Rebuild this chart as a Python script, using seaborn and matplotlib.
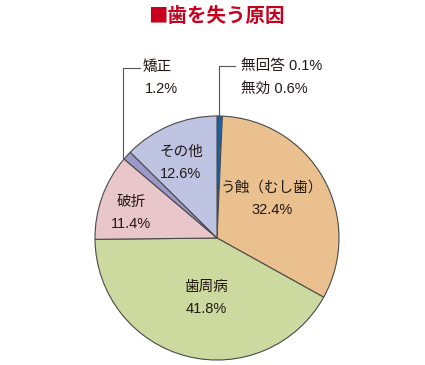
import matplotlib
matplotlib.use("Agg")
import matplotlib.pyplot as plt
import seaborn as sns

sns.set_theme(style="white")
plt.rcParams['font.family'] = ['Liberation Sans', 'Noto Sans CJK JP', 'DejaVu Sans']

# ---- data ----
categories = ['無回答', '無効', 'う蝕（むし歯）', '歯周病', '破折', '矯正', 'その他']
values = [0.1, 0.6, 32.4, 41.8, 11.4, 1.2, 12.6]
colors = ['#0B3F80', '#1763AE', '#EAC18E', '#CDDA9F', '#E9C6CA', '#9D98C9', '#BFC4E2']
title = '■歯を失う原因'

W, H = 425, 365
fig = plt.figure(figsize=(W / 100, H / 100), dpi=100)
ax = fig.add_axes([0, 0, 1, 1])

cx, cy, r = 217, H - 238, 122
ax.pie(values, colors=colors, startangle=90, counterclock=False,
       center=(cx, cy), radius=r,
       wedgeprops=dict(edgecolor='#4a4a4a', linewidth=0.8))
ax.set_xlim(0, W)
ax.set_ylim(0, H)
ax.set_aspect('equal')
ax.axis('off')

def P(px, py):
    return px, H - py

fs = 10.5
tc = '#231815'

# inside labels (center x, top-line y in pixels)
inside = {2: (272, 188), 3: (206, 287), 4: (131, 202), 6: (181, 152)}
for i, (px, py) in inside.items():
    ax.text(*P(px, py), categories[i], ha='center', va='center', fontsize=fs, color=tc)
    ax.text(*P(px, py + 22), f"{values[i]}%", ha='center', va='center', fontsize=fs, color=tc)

# outside labels
ax.text(*P(241, 66), f"{categories[0]} {values[0]}%", ha='left', va='center', fontsize=fs, color=tc)
ax.text(*P(241, 89), f"{categories[1]} {values[1]}%", ha='left', va='center', fontsize=fs, color=tc)
ax.text(*P(143, 67), categories[5], ha='left', va='center', fontsize=fs, color=tc)
ax.text(*P(145, 89), f"{values[5]}%", ha='left', va='center', fontsize=fs, color=tc)

# leader lines
lx = [219, 219, 235]
ly = [117, 66, 66]
ax.plot(lx, [H - y for y in ly], color='#555555', lw=0.8, clip_on=False)
lx2 = [123, 123, 140]
ly2 = [158, 68, 68]
ax.plot(lx2, [H - y for y in ly2], color='#555555', lw=0.8, clip_on=False)

# title
ax.text(*P(216, 16), title, ha='center', va='center', fontsize=14,
        fontweight='bold', color='#C8001E',
        family=['Noto Sans CJK JP', 'DejaVu Sans'])

fig.savefig('out.png', dpi=100)
